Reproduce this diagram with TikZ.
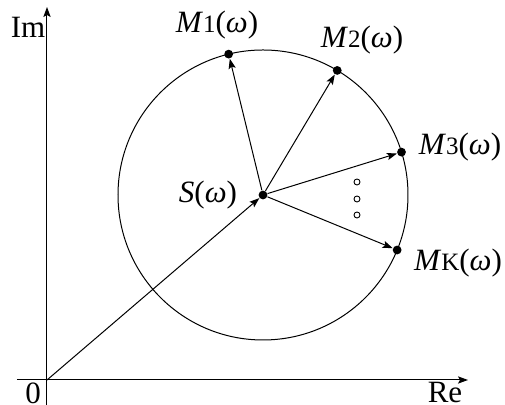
\documentclass[tikz,border=0pt]{standalone}
\usepackage{fontspec}
\setmainfont{Liberation Serif}
\usetikzlibrary{arrows.meta,calc}
\begin{document}
\begin{tikzpicture}[x=0.5pt,y=0.5pt,
  ln/.style={line width=0.5pt},
  arr/.style={ln,-{Stealth[length=5pt,width=3.6pt,inset=1pt]}},
  dot/.style={circle,fill=black,minimum size=4.4pt,inner sep=0pt},
  hollow/.style={circle,draw,line width=0.45pt,minimum size=3pt,inner sep=0pt},
  lab/.style={inner sep=0pt,font=\fontsize{15.5pt}{18pt}\selectfont},
]
\newcommand{\sbs}[1]{{\fontsize{12.5pt}{14pt}\selectfont #1}}
\useasboundingbox (0,0) rectangle (505,405);
% axes
\coordinate (O) at (47,25);
\coordinate (ybot) at (47,0);
\coordinate (ytop) at (47,398);
\coordinate (xl) at (17,25);
\coordinate (xr) at (468,25);
\draw[arr] (ybot) -- (ytop);
\draw[arr] (xl) -- (xr);
% centre and circle
\node[dot] (S) at (263,210) {};
\draw[ln] (S.center) circle[radius=145];
\node[dot] (M1) at ($(S.center)+(103.7:145)$) {};
\node[dot] (M2) at ($(S.center)+(59.2:145)$) {};
\node[dot] (M3) at ($(S.center)+(17.2:145)$) {};
\node[dot] (MK) at ($(S.center)+(-22.3:145)$) {};
\draw[arr] (O) -- (S);
\draw[arr] (S) -- (M1);
\draw[arr] (S) -- (M2);
\draw[arr] (S) -- (M3);
\draw[arr] (S) -- (MK);
% dots
\node[hollow] (d1) at (357,223) {};
\node[hollow] (d2) at (357,206) {};
\node[hollow] (d3) at (357,190) {};
% labels
\node[lab] (lIm) at (28,378) {Im};
\node[lab] (l0) at (33,12) {0};
\node[lab] (lRe) at (445,12) {Re};
\node[lab] (lS) at (208,210) {\textit{S}(\textit{ω})};
\node[lab] (lM1) at (217,380) {\textit{M}\sbs{1}(\textit{ω})};
\node[lab] (lM2) at (362,365) {\textit{M}\sbs{2}(\textit{ω})};
\node[lab] (lM3) at (460,258) {\textit{M}\sbs{3}(\textit{ω})};
\node[lab] (lMK) at (458,142) {\textit{M}\sbs{K}(\textit{ω})};
\end{tikzpicture}
\end{document}
